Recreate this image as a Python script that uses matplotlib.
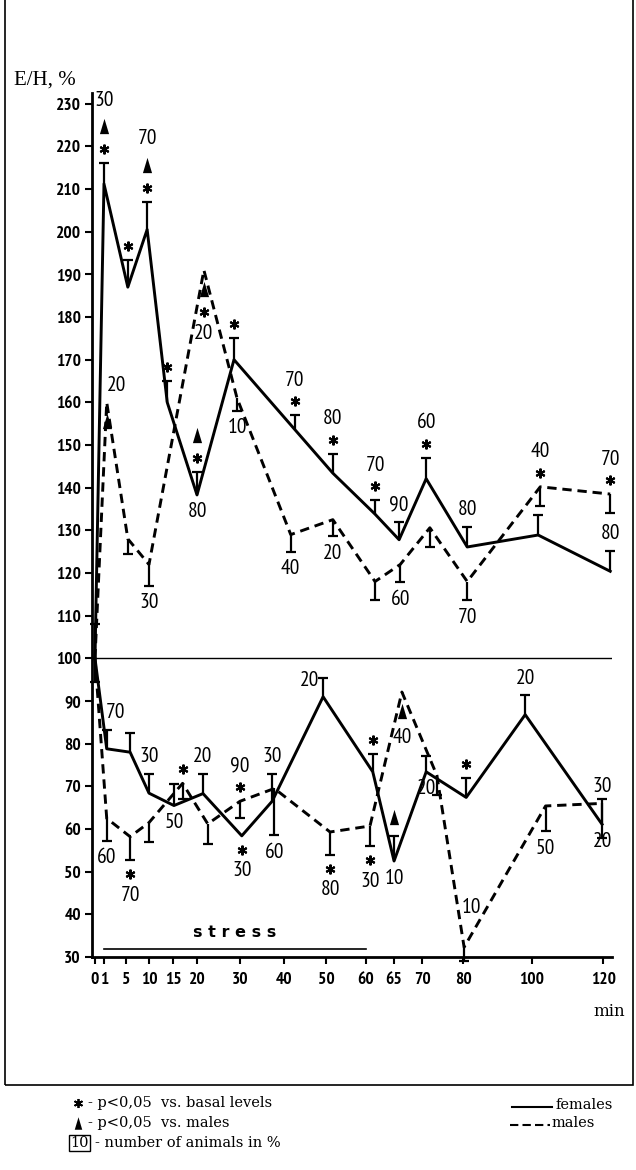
import numpy as np
import matplotlib.pyplot as plt
from matplotlib import font_manager as fm
from matplotlib.lines import Line2D
from matplotlib.patches import Rectangle
from matplotlib.transforms import offset_copy

nan = np.nan

# printed time axis: tick minutes and their spacing along the axis
tick_min = [0, 1, 5, 10, 15, 20, 30, 40, 50, 60, 65, 70, 80, 100, 120]
tick_space = [0, 9, 31, 54, 78, 102, 145, 189, 231, 271, 299, 327, 368, 437, 508]
y_ticks = list(range(30, 231, 10))
stress_window = [1, 60]

# E/H, % of basal -- rising branch
fem_up_t = [0, 1, 5.4, 9.6, 13.8, 20, 28.6, 42.5, 51.7, 61.6, 65.9, 71, 81.2, 101.7, 122]
fem_up_v = [100, 211.2, 187, 200.5, 160, 138.3, 170, 153.7, 143.4, 133.8, 127.8, 142.1, 126.1, 128.9, 120.4]
fem_up_se = [108, 216, 193.3, 207, 165, 143.7, 175, 157, 148, 137.1, 132, 147, 130.8, 133.5, 125.2]
fem_up_above = ['', '* ^ 30', '*', '* ^ 70', '*', '* ^', '*', '* 70', '* 80', '* 70', '90', '* 60', '80', '', '80']
fem_up_below = ['', '', '', '', '', '80', '', '', '', '', '', '', '', '', '']

male_up_t = [0, 1.5, 5.4, 10, 21.6, 29.3, 41.6, 51.7, 61.6, 66.1, 71.9, 81.2, 102.3, 122]
male_up_v = [100, 160, 128, 122, 191, 161, 129, 132.5, 118, 122, 130.6, 118, 140.2, 138.5]
male_up_se = [nan, nan, 124.5, 117, nan, 158, 125, 128.6, 113.6, 117.8, 126, 113.6, 135.8, 134]
male_up_above = ['', '20', '', '', '', '', '', '', '', '', '', '', '* 40', '* 70']
male_up_below = ['', '^', '', '30', '^ * 20', '10', '40', '20', '', '60', '', '70', '', '']

# E/H, % of basal -- falling branch
fem_lo_t = [0, 1.5, 5.9, 10, 15.2, 21.4, 30.4, 37.3, 49.3, 61.2, 65, 71, 80.9, 98, 119.7]
fem_lo_v = [100, 78.8, 78, 68.4, 65.5, 68.3, 58.4, 66.5, 91, 73.4, 52.5, 73.4, 67.4, 86.8, 61.1]
fem_lo_se = [nan, 83.3, 82.5, 73, 70.5, 73, nan, 73, 95.5, 77.5, 58.4, 77, 72, 91.4, 67]
fem_lo_above = ['', '70', '', '30', '', '20', '', '30', '20', '*', '^', '', '*', '20', '']
fem_lo_below = ['', '', '', '', '50', '', '* 30', '', '', '', '10', '20', '', '', '20']

male_lo_t = [0, 1.5, 5.9, 10, 17, 22.5, 30, 37.8, 51, 60.7, 66.4, 73.6, 80.3, 103.8, 119.7]
male_lo_v = [100, 62.5, 58.2, 61.5, 70.7, 61.2, 66.5, 69.5, 59.3, 60.7, 92.1, 72.6, 32.3, 65.4, 66]
male_lo_se = [94.5, 57.3, 52.7, 57, 67, 56.5, 62.5, 58.5, 54, 56, nan, 68, 29, 59.5, 58]
male_lo_above = ['', '', '', '', '*', '', '* 90', '', '', '', '', '', '10', '', '30']
male_lo_below = ['', '60', '* 70', '', '', '', '', '60', '* 80', '* 30', '^ 40', '', '', '50', '']

# small shifts (pixels) for labels squeezed next to the lines
label_shift = {('mu', 1): (10, 0), ('fl', 1): (9, 0), ('fl', 8): (-14, -20), ('ml', 12): (7, 23)}

available = {f.name for f in fm.fontManager.ttflist}


def pick(*names):
    for n in names:
        if n in available:
            return [n, 'DejaVu Sans']
    return ['Liberation Sans', 'DejaVu Sans']


NARROW = pick('Liberation Sans Narrow', 'PT Sans Narrow', 'Archivo Narrow', 'Roboto Condensed',
              'Barlow Condensed', 'Open Sans Condensed')
SERIF = ['Liberation Serif', 'DejaVu Serif', 'DejaVu Sans']
SLAB = ['DejaVu Serif', 'DejaVu Sans']

fig = plt.figure(figsize=(6.36, 11.7), dpi=100)
ax = fig.add_axes([92 / 636, 213 / 1170, 520 / 636, 864 / 1170])

ext_min = np.r_[-5, tick_min, 130]
ext_space = np.r_[-45, tick_space, 543.5]
ax.set_xscale('function', functions=(lambda x: np.interp(x, ext_min, ext_space),
                                     lambda s: np.interp(s, ext_space, ext_min)))
ax.set_xlim(-0.33, 122.5)
ax.set_ylim(30, 232.5)

for side in ('top', 'right'):
    ax.spines[side].set_visible(False)
for side in ('left', 'bottom'):
    ax.spines[side].set_linewidth(2)

ax.set_xticks(tick_min)
ax.set_xticklabels([str(m) for m in tick_min])
ax.set_yticks(y_ticks)
ax.set_yticklabels([str(v) for v in y_ticks])
ax.tick_params(direction='out', length=5, width=1.5)
ax.tick_params(axis='x', pad=6)
ax.tick_params(axis='y', pad=3)
for lab in ax.get_xticklabels() + ax.get_yticklabels():
    lab.set_fontfamily(NARROW)
    lab.set_fontweight('bold')
    lab.set_fontsize(12.5)

ax.axhline(100, color='k', lw=1)

tri = [(-0.6, -1), (0.6, -1), (0, 1)]
HALF = {'*': 6, '^': 11}


def draw_series(key, t, v, se, above, below, ls):
    t, v, se = (np.asarray(a, float) for a in (t, v, se))
    ax.plot(t, v, color='k', lw=2.1, ls=ls, clip_on=False)
    ok = ~np.isnan(se)
    ax.vlines(t[ok], v[ok], se[ok], color='k', lw=1.6, clip_on=False)
    ax.plot(t[ok], se[ok], ls='none', marker='_', ms=7, mew=1.6, color='k', clip_on=False)
    for i in range(len(t)):
        for tokens, sign in ((above[i], 1), (below[i], -1)):
            if not tokens:
                continue
            base = v[i]
            if ok[i] and (se[i] - v[i]) * sign > 0:
                base = se[i]
            pos, prev = 0, None
            for tok in tokens.split():
                half = HALF.get(tok, 9)
                pos += 8 + half if prev is None else prev + 6 + half
                prev = half
                if tok in HALF:
                    tr = offset_copy(ax.transData, fig=fig, x=0, y=sign * pos, units='dots')
                    if tok == '*':
                        ax.plot([t[i]], [base], marker=(6, 2, 0), ms=7, mew=1.5, color='k',
                                transform=tr, clip_on=False)
                    else:
                        ax.plot([t[i]], [base], marker=tri, ms=11, mew=0, color='k',
                                transform=tr, clip_on=False)
                else:
                    dx, dy = label_shift.get((key, i), (0, 0))
                    ax.annotate(tok, (t[i], base), xytext=(dx, sign * pos + dy),
                                textcoords='offset pixels', ha='center', va='center',
                                fontsize=15.5, family=NARROW, annotation_clip=False)


draw_series('fu', fem_up_t, fem_up_v, fem_up_se, fem_up_above, fem_up_below, '-')
draw_series('mu', male_up_t, male_up_v, male_up_se, male_up_above, male_up_below, (0, (3.2, 2)))
draw_series('fl', fem_lo_t, fem_lo_v, fem_lo_se, fem_lo_above, fem_lo_below, '-')
draw_series('ml', male_lo_t, male_lo_v, male_lo_se, male_lo_above, male_lo_below, (0, (3.2, 2)))

# stress period bar
ax.plot(stress_window, [31.8, 31.8], color='k', lw=1.2)
mid = np.interp(np.mean(np.interp(stress_window, ext_min, ext_space)), ext_space, ext_min)
ax.text(mid, 35.7, 's t r e s s', ha='center', va='center', fontsize=11.5,
        fontweight='bold', family='DejaVu Sans')

fig.text(14 / 636, 1 - 80 / 1170, 'E/H, %', fontsize=15, family=SERIF, va='center')
fig.text(593 / 636, 1 - 1011 / 1170, 'min', fontsize=12, family=SLAB, va='center')

# frame around the plot
fig.add_artist(Rectangle((5 / 636, 1 - 1085 / 1170), 628 / 636, 1.2, transform=fig.transFigure,
                         fill=False, lw=1.2, ec='k'))


def fy(p):
    return 1 - p / 1170


# key
fig.add_artist(Line2D([78 / 636], [fy(1103)], marker=(6, 2, 0), ms=6.5, mew=1.3, color='k'))
fig.add_artist(Line2D([78 / 636], [fy(1123)], marker=tri, ms=9, mew=0, color='k'))
fig.text(88 / 636, fy(1103), '- p<0,05  vs. basal levels', fontsize=10.5, family=SLAB, va='center')
fig.text(88 / 636, fy(1123), '- p<0,05  vs. males', fontsize=10.5, family=SLAB, va='center')
fig.text(70 / 636, fy(1143), '10', fontsize=10.5, family=SLAB, va='center',
         bbox=dict(boxstyle='square,pad=0.1', fc='none', ec='k', lw=1))
fig.text(95 / 636, fy(1143), '- number of animals in %', fontsize=10.5, family=SLAB, va='center')
fig.add_artist(Line2D([512 / 636, 552 / 636], [fy(1107)] * 2, color='k', lw=1.5))
fig.add_artist(Line2D([510 / 636, 550 / 636], [fy(1125)] * 2, color='k', lw=1.5, ls=(0, (4, 2))))
fig.text(556 / 636, fy(1105), 'females', fontsize=10.5, family=SLAB, va='center')
fig.text(552 / 636, fy(1123), 'males', fontsize=10.5, family=SLAB, va='center')

fig.savefig('out.png', dpi=100)
